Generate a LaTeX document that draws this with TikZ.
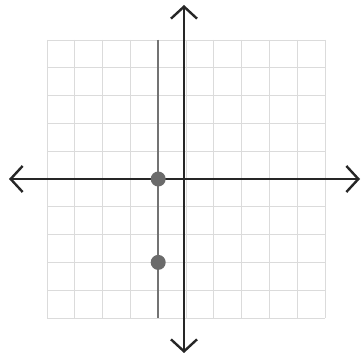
\documentclass[tikz,border=0pt]{standalone}
\usetikzlibrary{arrows.meta}
\begin{document}
\begin{tikzpicture}[x=1pt,y=-1pt,
  gridline/.style={draw=black!14,line width=0.9pt},
  axisline/.style={draw=black!85,line width=2.4pt,{Straight Barb[length=12pt,width=26pt,line width=2.4pt]}-{Straight Barb[length=12pt,width=26pt,line width=2.4pt]}},
  graphline/.style={draw=black!55,line width=2.2pt},
  dotnode/.style={circle,fill=black!58,inner sep=0pt,minimum size=15pt}]
\useasboundingbox (0,0) rectangle (362,358);
\fill[white] (0,0) rectangle (362,358);
% grid: 10x10 cells, cell = 27.8px, centre (186,179)
\foreach \i in {-5,...,5} {
  \draw[gridline] (186+27.8*\i,40) -- (186+27.8*\i,318);
  \draw[gridline] (47,179+27.8*\i) -- (325,179+27.8*\i);
}
\coordinate (xl) at (9,179);
\coordinate (xr) at (360,179);
\coordinate (yt) at (184,5);
\coordinate (yb) at (184,353);
\coordinate (lt) at (158.2,40);
\coordinate (lb) at (158.2,318);
\draw[graphline] (lt) -- (lb);
\draw[axisline] (xl) -- (xr);
\draw[axisline] (yt) -- (yb);
\node[dotnode] (p1) at (158.2,179) {};
\node[dotnode] (p2) at (158.2,262.4) {};
\end{tikzpicture}
\end{document}
